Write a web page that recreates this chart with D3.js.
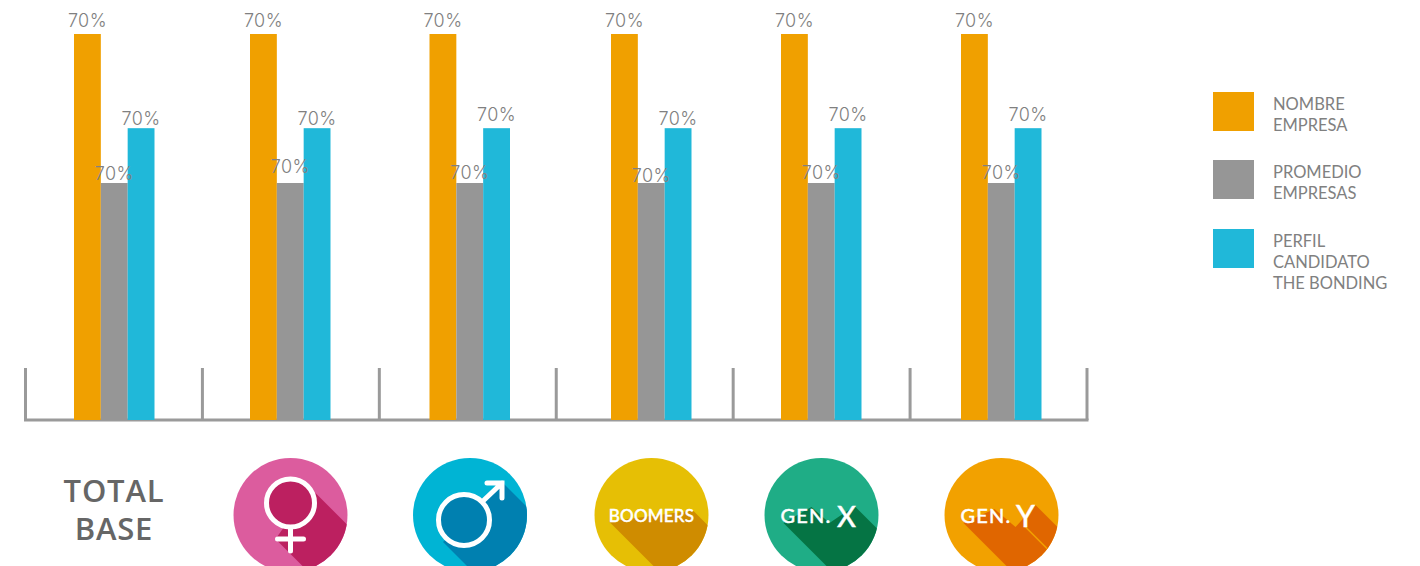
<!DOCTYPE html>
<html><head><meta charset="utf-8">
<script src="https://cdn.jsdelivr.net/npm/d3@7"></script>
<style>html,body{margin:0;padding:0;background:#fff}svg{display:block}</style>
</head><body><div id="c"></div>
<script>
const categories = ["TOTAL BASE","MUJER","HOMBRE","BOOMERS","GEN. X","GEN. Y"];
const seriesNames = ["NOMBRE EMPRESA","PROMEDIO EMPRESAS","PERFIL CANDIDATO THE BONDING"];
const nombreEmpresa = [100,100,100,100,100,100];
const promedioEmpresas = [61.4,61.4,61.4,61.4,61.4,61.4];
const perfilCandidato = [75.6,75.6,75.6,75.6,75.6,75.6];
const barLabels = ["70%","70%","70%","70%","70%","70%"];
const legendLines = [["NOMBRE","EMPRESA"],["PROMEDIO","EMPRESAS"],["PERFIL","CANDIDATO","THE BONDING"]];
const colors = ["#f0a000","#969696","#20b8d9"];

const W=1420,H=566;
const svg=d3.select("#c").append("svg").attr("width",W).attr("height",H);
const y=d3.scaleLinear().domain([0,100]).range([420,34]);
const x=d3.scaleOrdinal().domain(categories).range([114.5,290.5,470,651.5,821.5,1001.5]);
const sub=d3.scaleBand().domain(seriesNames).range([-40.5,40]);
const tick=d3.scaleLinear().domain([0,6]).range([25.5,1087]);
const all=[nombreEmpresa,promedioEmpresas,perfilCandidato];
const labelFont='"Inter",sans-serif';

// axis
const ag=svg.append("g").attr("stroke","#9a9a9a").attr("stroke-width",3);
ag.append("line").attr("x1",tick(0)-1.5).attr("x2",tick(6)+1.5).attr("y1",y(0)).attr("y2",y(0));
ag.selectAll("line.t").data(d3.range(7)).join("line").attr("class","t")
  .attr("x1",d=>tick(d)).attr("x2",d=>tick(d)).attr("y1",368).attr("y2",y(0));

// bars
seriesNames.forEach((s,si)=>{
  svg.append("g").selectAll("rect").data(categories).join("rect")
    .attr("x",c=>x(c)+sub(s)).attr("width",sub.bandwidth()).attr("y",(c,i)=>y(all[si][i]))
    .attr("height",(c,i)=>y(0)-y(all[si][i])).attr("fill",colors[si]);
});
// labels: lift above each bar top as placed in the reference
const lift=[[7,7,7,7,7,7],[3,10,4,1,4,4],[3,3,7,3,7,7]];
seriesNames.forEach((s,si)=>{
  svg.append("g").selectAll("text").data(categories).join("text")
    .attr("x",c=>x(c)+sub(s)+sub.bandwidth()/2)
    .attr("y",(c,i)=>y(all[si][i])-lift[si][i])
    .attr("text-anchor","middle").attr("font-family",labelFont).attr("font-size",18).attr("font-weight",300)
    .attr("letter-spacing",0.4).attr("fill","#808080").text((c,i)=>barLabels[i]);
});

// total base
const tb=svg.append("g").attr("font-family",'"Open Sans",sans-serif').attr("font-weight",600).attr("font-size",31).attr("letter-spacing",0.8).attr("fill","#666").attr("text-anchor","middle");
tb.append("text").attr("x",114).attr("y",502).text("TOTAL");
tb.append("text").attr("x",114).attr("y",540).text("BASE");

// icons
const defs=svg.append("defs");
const R=57, CY=515;
const icons=[
 {cat:"MUJER",base:"#dc5c9e",dark:"#bc2060",shadow:[[20,-27],[85,38],[85,120],[81,120],[-15,24],[-5,10]]},
 {cat:"HOMBRE",base:"#00b4d4",dark:"#0080b0",shadow:[[33,-32],[95,30],[95,120],[66,120],[-27,27]]},
 {cat:"BOOMERS",base:"#e6bf05",dark:"#cf8c00",shadow:[[41.5,-4.5],[100,54],[100,120],[71,120],[-42.5,6.5]]},
 {cat:"GEN. X",base:"#1fad86",dark:"#057444",shadow:[[33,-9],[95,53],[95,120],[74,120],[-38,8],[-10,-8],[8,8]]},
 {cat:"GEN. Y",base:"#f2a100",dark:"#e06600",shadow:[[34,-10],[95,51],[95,120],[74,120],[-38,8],[-7,-6],[14,12]]}
];
icons.forEach((ic,i)=>{
  const cx=x(ic.cat);
  defs.append("clipPath").attr("id","cp"+i).append("circle").attr("r",R);
  const g=svg.append("g").attr("transform",`translate(${cx},${CY})`);
  g.append("circle").attr("r",R).attr("fill",ic.base);
  g.append("polygon").attr("clip-path",`url(#cp${i})`).attr("fill",ic.dark).attr("points",ic.shadow.map(p=>p.join(",")).join(" "));
  ic.g=g;
});
const wl={stroke:"#fff",fill:"none","stroke-width":5,"stroke-linecap":"round","stroke-linejoin":"miter"};
function sty(s,o){for(const k in o)s.attr(k,o[k]);return s;}
// female
const f=icons[0].g;
sty(f.append("circle").attr("cy",-12).attr("r",24),wl).attr("fill",icons[0].dark);
sty(f.append("path").attr("d","M0,13V36M-13,24H13"),wl);
// male
const m=icons[1].g;
sty(m.append("circle").attr("cx",-6).attr("cy",5).attr("r",25.5),wl).attr("fill",icons[1].dark);
sty(m.append("path").attr("d","M13,-14L32,-32M17,-32H32V-17"),wl);
// text badges
const bf='"Lato",sans-serif';
function t(g,tx,xp,yp,fs,anchor,ls){return g.append("text").attr("x",xp).attr("y",yp).attr("font-family",bf).attr("font-weight",500).attr("font-size",fs).attr("letter-spacing",ls||0).attr("fill","#fff").attr("stroke","#fff").attr("stroke-width",0.4).attr("text-anchor",anchor||"start").text(tx);}
t(icons[2].g,"BOOMERS",0,7,17,"middle",0.2);
t(icons[3].g,"GEN.",-41,8,20,"start",1.2);
t(icons[3].g,"X",15.5,12,29);
t(icons[4].g,"GEN.",-41,8,20,"start",1.2);
t(icons[4].g,"Y",14.5,12,30);
icons[4].g.insert("line","text").attr("clip-path","url(#cp4)").attr("x1",24).attr("y1",12).attr("x2",50).attr("y2",38).attr("stroke","#f2a100").attr("stroke-width",1.6);

// legend
const ly=d3.scaleOrdinal().domain(seriesNames).range([92,160,229]);
const lg=svg.append("g");
seriesNames.forEach((s,i)=>{
  lg.append("rect").attr("x",1213).attr("y",ly(s)).attr("width",41).attr("height",39).attr("fill",colors[i]);
  legendLines[i].forEach((l,j)=>{
    lg.append("text").attr("x",1273).attr("y",ly(s)+17.5+j*21).attr("font-family",'"Lato",sans-serif').attr("font-size",16.5).attr("font-weight",400).attr("fill","#808080").text(l);
  });
});
</script></body></html>
